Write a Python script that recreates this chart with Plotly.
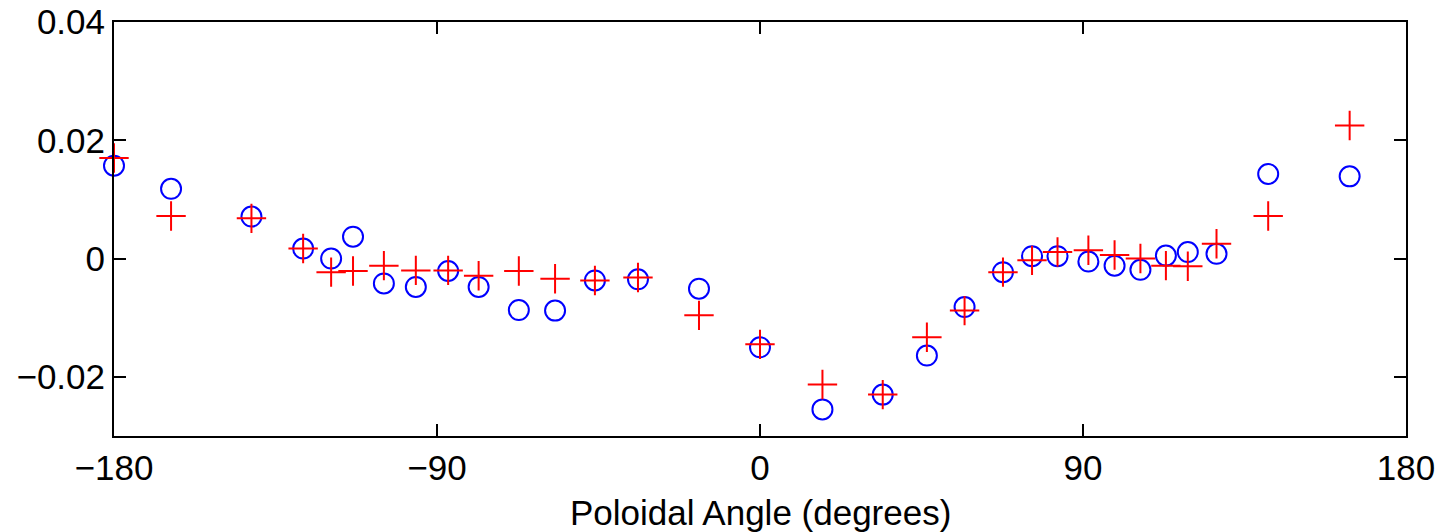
import plotly.graph_objects as go

angle = [-180, -164.1, -141.7, -127.3, -119.5, -113.4, -104.8, -95.9, -86.9, -78.4,
         -67.2, -57.1, -46.0, -34.0, -17.0, 0.0, 17.4, 34.2, 46.5, 57.0,
         67.7, 75.8, 82.9, 91.5, 98.8, 106.0, 113.1, 119.2, 127.2, 141.6, 164.3]

blue_vals = [0.0157, 0.0118, 0.0071, 0.0017, 0.0000, 0.0037, -0.0042, -0.0048, -0.0021, -0.0048,
             -0.0087, -0.0088, -0.0037, -0.0035, -0.0051, -0.0150, -0.0255, -0.0230, -0.0164, -0.0082,
             -0.0023, 0.0004, 0.0004, -0.0005, -0.0012, -0.0019, 0.0005, 0.0011, 0.0008, 0.0143, 0.0139]

red_vals = [0.0170, 0.0072, 0.0068, 0.0017, -0.0023, -0.0021, -0.0012, -0.0020, -0.0020, -0.0029,
            -0.0021, -0.0034, -0.0037, -0.0032, -0.0096, -0.0145, -0.0213, -0.0230, -0.0133, -0.0088,
            -0.0023, -0.0003, 0.0011, 0.0014, 0.0006, 0.0000, -0.0012, -0.0013, 0.0025, 0.0072, 0.0225]

x_ticks = [-180, -90, 0, 90, 180]
x_labels = ["\u2212180", "\u221290", "0", "90", "180"]
y_ticks = [-0.02, 0, 0.02, 0.04]
y_labels = ["\u22120.02", "0", "0.02", "0.04"]

FONT = "Liberation Sans, Arial, sans-serif"

fig = go.Figure()
fig.add_trace(go.Scatter(x=angle, y=blue_vals, mode="markers", cliponaxis=False,
                         marker=dict(symbol="circle-open", size=20, color="#0000ff",
                                     line=dict(width=2, color="#0000ff")),
                         showlegend=False))
fig.add_trace(go.Scatter(x=angle, y=red_vals, mode="markers", cliponaxis=False,
                         marker=dict(symbol="cross-thin-open", size=21, color="#ff0000",
                                     line=dict(width=2, color="#ff0000")),
                         showlegend=False))

axis_common = dict(showline=True, linecolor="black", linewidth=2, mirror="ticks",
                   ticks="inside", ticklen=12, tickwidth=1.5, tickcolor="black",
                   showgrid=False, zeroline=False, automargin=False,
                   tickfont=dict(family=FONT, size=35, color="black"))

fig.update_layout(
    width=1444, height=532,
    margin=dict(l=114, r=38, t=22, b=96),
    paper_bgcolor="white", plot_bgcolor="white",
    font=dict(family=FONT, size=35, color="black"),
    xaxis=dict(range=[-180, 180], tickvals=x_ticks, ticktext=x_labels, **axis_common),
    yaxis=dict(range=[-0.03, 0.04], tickvals=y_ticks, ticktext=y_labels, **axis_common),
    annotations=[dict(text="Poloidal Angle (degrees)", xref="paper", yref="paper",
                      x=0.5, y=-0.184, xanchor="center", yanchor="middle", showarrow=False,
                      font=dict(family=FONT, size=35, color="black"))],
)

fig.write_html("out.html")
